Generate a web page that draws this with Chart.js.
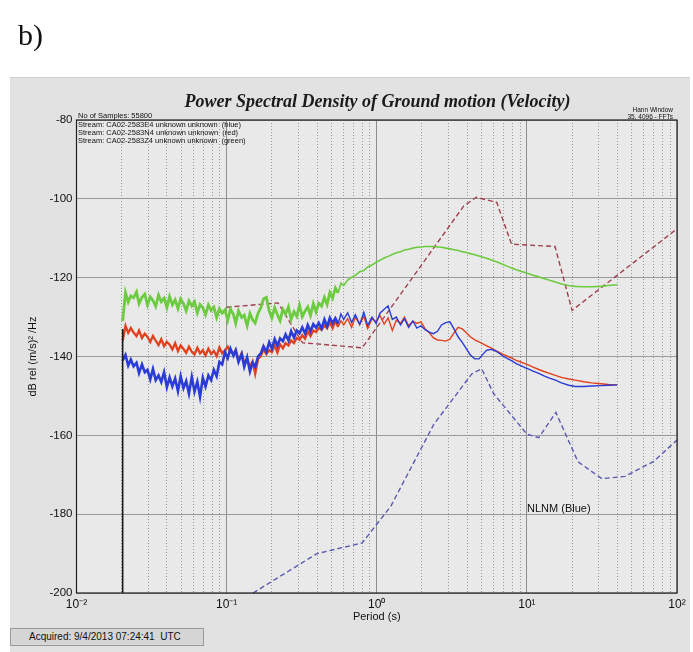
<!DOCTYPE html>
<html>
<head>
<meta charset="utf-8">
<script src="https://cdn.jsdelivr.net/npm/chart.js@4"></script>
<style>
  body { margin: 0; width: 693px; height: 652px; background: #fff; position: relative; overflow: hidden; font-family: "Liberation Sans", Arial, sans-serif; }
  #panel { position: absolute; left: 10px; top: 77px; width: 680px; height: 575px; background: #e2e2e2; border-top: 1px solid #cfcfcf; }
  #wrap { position: absolute; left: 0; top: 0; width: 693px; height: 652px; }
  .txt { position: absolute; white-space: nowrap; color: #111; }
  #tag { left: 18px; top: 18px; font: 30px "Liberation Serif", serif; }
  #title { left: 0; width: 755px; text-align: center; top: 91px; font: italic bold 18px "Liberation Serif", serif; color: #1a1a1a; }
  .info { left: 78px; font-size: 7.5px; line-height: 8px; }
  .fft { font-size: 6.5px; text-align: right; right: 20px; }
  #nlnm { left: 527px; top: 502px; font-size: 11px; }
  #acq { left: 10px; top: 628px; width: 194px; height: 18px; background: #d6d6d6; border: 1px solid #9a9a9a; box-sizing: border-box; font-size: 10px; line-height: 16px; padding-left: 18px; color: #111; }
</style>
</head>
<body>
<div id="panel"></div>
<div id="wrap"><canvas id="psd"></canvas></div>
<div class="txt" id="tag">b)</div>
<div class="txt" id="title">Power Spectral Density of Ground motion (Velocity)</div>
<div class="txt info" style="top:112px">No of Samples: 55800</div>
<div class="txt info" style="top:121px">Stream: CA02-2583E4 unknown unknown&nbsp; (blue)</div>
<div class="txt info" style="top:129px">Stream: CA02-2583N4 unknown unknown&nbsp; (red)</div>
<div class="txt info" style="top:137px">Stream: CA02-2583Z4 unknown unknown&nbsp; (green)</div>
<div class="txt fft" style="top:106px">Hann Window</div>
<div class="txt fft" style="top:113px">35, 4096 - FFTs</div>
<div class="txt" id="nlnm">NLNM (Blue)</div>
<div class="txt" id="acq">Acquired: 9/4/2013 07:24:41&nbsp; UTC</div>
<script>
// Periods (s) of the three measured spectra
const periods = [
  0.0203, 0.0212, 0.0221, 0.0230, 0.0240, 0.0251, 0.0261, 0.0273, 0.0285, 0.0297,
  0.0310, 0.0323, 0.0337, 0.0352, 0.0367, 0.0383, 0.0400, 0.0417, 0.0435, 0.0454,
  0.0474, 0.0494, 0.0516, 0.0538, 0.0561, 0.0586, 0.0611, 0.0638, 0.0665, 0.0694,
  0.0724, 0.0756, 0.0788, 0.0822, 0.0858, 0.0895, 0.0934, 0.0975, 0.1017, 0.106,
  0.111, 0.115, 0.120, 0.126, 0.131, 0.137, 0.143, 0.149, 0.155, 0.162,
  0.169, 0.176, 0.184, 0.192, 0.200, 0.209, 0.218, 0.227, 0.237, 0.247,
  0.258, 0.269, 0.281, 0.293, 0.306, 0.319, 0.333, 0.347, 0.362, 0.378,
  0.394, 0.411, 0.429, 0.448, 0.467, 0.487, 0.508, 0.530, 0.553, 0.577,
  0.602, 0.64, 0.68, 0.72, 0.77, 0.82, 0.87, 0.93, 0.99, 1.05,
  1.12, 1.19, 1.27, 1.35, 1.44, 1.53, 1.63, 1.74, 1.85, 1.97,
  2.10, 2.24, 2.38, 2.54, 2.70, 2.88, 3.07, 3.27, 3.48, 3.71,
  3.95, 4.2, 4.5, 4.8, 5.1, 5.4, 5.8, 6.2, 6.6, 7.0,
  7.5, 8.0, 8.5, 9.1, 9.7, 10.3, 11.0, 12.0, 13.0, 14.0,
  15.5, 17, 19, 21, 24, 27, 31, 35, 40
];

// E component (blue)
const blueDb = [
  -141.0, -139.6, -142.3, -140.8, -142.5, -141.6, -144.2, -142.0, -144.0, -143.4,
  -145.8, -143.2, -146.0, -144.8, -146.5, -144.0, -147.8, -145.3, -147.6, -145.6,
  -148.8, -145.0, -148.0, -146.2, -149.4, -145.2, -148.9, -146.4, -150.2, -145.4,
  -147.6, -144.8, -146.0, -143.4, -145.0, -141.4, -142.0, -139.0, -140.4, -138.0,
  -139.8, -138.4, -141.4, -139.4, -142.6, -140.2, -143.8, -141.6, -142.6, -140.0,
  -139.2, -137.4, -138.8, -136.4, -138.0, -135.6, -137.3, -135.4, -136.1, -134.4,
  -135.9, -133.6, -135.2, -133.4, -134.1, -132.6, -134.2, -132.0, -133.6, -131.8,
  -132.7, -131.5, -132.9, -130.6, -132.4, -130.2, -131.5, -130.3, -131.7, -129.2,
  -130.6, -128.9, -131.4, -129.4, -131.9, -128.8, -132.1, -130.0, -131.6, -129.0,
  -128.0, -127.2, -130.6, -130.0, -132.0, -130.4, -132.6, -131.0, -132.8, -132.2,
  -133.2, -133.8, -134.2, -133.6, -132.0, -131.4, -131.2, -133.0, -135.0, -136.4,
  -138.0, -139.6, -140.6, -140.6, -139.4, -138.4, -138.2, -138.6, -139.3, -140.0,
  -140.6, -141.2, -141.8, -142.3, -142.8, -143.2, -143.7, -144.3, -144.9, -145.4,
  -146.0, -146.7, -147.3, -147.6, -147.6, -147.5, -147.4, -147.3, -147.2
];

// N component (red)
const redDb = [
  -136.0, -132.2, -134.0, -132.8, -133.9, -134.8, -133.4, -135.3, -134.2, -135.0,
  -136.3, -134.8, -136.0, -137.1, -135.6, -137.4, -136.3, -137.0, -138.2, -136.6,
  -138.6, -137.2, -138.1, -139.1, -137.5, -138.8, -139.5, -137.8, -139.2, -138.4,
  -139.7, -138.0, -139.3, -138.6, -139.9, -137.7, -139.2, -138.4, -137.5, -138.9,
  -139.2, -138.4, -140.9, -139.2, -141.5, -140.8, -142.6, -141.2, -144.4, -140.6,
  -139.9, -138.2, -139.4, -138.4, -138.9, -137.2, -139.0, -136.9, -137.9, -136.6,
  -137.2, -135.9, -136.6, -135.3, -135.8, -134.6, -135.5, -133.6, -134.8, -133.4,
  -133.8, -132.8, -133.2, -132.2, -132.8, -131.4, -132.8, -131.0, -132.5, -130.9,
  -132.0, -130.4, -132.6, -130.0, -131.8, -129.8, -132.9, -130.4, -131.2, -129.6,
  -131.8, -130.2, -133.4, -130.8, -131.6, -130.0, -132.2, -131.0, -131.6, -131.2,
  -133.0, -134.0, -135.2, -135.8, -135.9, -136.1, -135.6, -134.0, -132.6, -133.0,
  -134.0, -135.0, -135.8, -136.3, -136.8, -137.3, -137.9, -138.5, -139.0, -139.5,
  -140.0, -140.5, -141.0, -141.4, -141.8, -142.2, -142.7, -143.3, -143.8, -144.2,
  -144.8, -145.3, -145.7, -146.0, -146.4, -146.7, -146.9, -147.1, -147.2
];

// Z component (green)
const greenDb = [
  -131.0, -123.8, -126.2, -124.6, -125.1, -123.6, -126.6, -125.0, -124.2, -126.9,
  -124.9, -125.8, -127.3, -124.4, -126.1, -125.2, -127.6, -124.8, -126.9, -125.6,
  -127.8, -125.4, -126.6, -128.4, -125.9, -127.2, -126.1, -128.9, -126.8, -127.6,
  -129.4, -126.9, -128.3, -127.5, -130.1, -127.9, -129.0, -128.2, -130.8, -128.0,
  -129.3, -131.6, -128.4, -130.1, -129.5, -132.2, -129.1, -130.7, -131.5, -129.0,
  -127.6, -125.4, -125.0, -128.4, -130.2, -127.6, -129.4, -130.9, -128.0, -129.2,
  -127.4, -130.6, -128.6, -129.8, -127.0, -129.9, -128.5, -127.4, -129.6, -126.6,
  -128.7, -126.5, -127.2, -125.0, -126.8, -123.8, -125.2, -122.6, -123.9, -121.4,
  -122.0, -120.6, -119.9, -119.4, -118.5, -118.2, -117.3, -116.8, -116.1, -115.6,
  -115.0, -114.6, -114.1, -113.7, -113.4, -113.0, -112.8, -112.5, -112.3, -112.2,
  -112.1, -112.1, -112.1, -112.2, -112.3, -112.5, -112.7, -112.9, -113.1, -113.4,
  -113.6, -113.9, -114.2, -114.5, -114.8, -115.1, -115.5, -115.9, -116.3, -116.7,
  -117.2, -117.6, -118.0, -118.4, -118.7, -119.0, -119.4, -119.8, -120.2, -120.6,
  -121.1, -121.6, -122.0, -122.2, -122.3, -122.3, -122.2, -122.0, -121.8
];

// High noise model (red dashed)
const nhnmPeriods = [0.1, 0.22, 0.32, 0.8, 3.8, 4.6, 6.3, 7.9, 15.4, 20, 100];
const nhnmDb = [-127.5, -126.4, -136.5, -137.8, -101.8, -99.6, -100.9, -111.5, -112.1, -128.3, -107.6];

// Low noise model (blue dashed)
const nlnmPeriods = [0.15, 0.4, 0.8, 1.24, 2.4, 4.3, 5.0, 6.0, 10, 12, 15.6, 21.9, 31.6, 45, 70, 100];
const nlnmDb = [-200, -190, -187.3, -178, -157.2, -144.4, -143.1, -149.4, -159.7, -160.6, -154.2, -166.7, -171, -170.4, -166.6, -161.2];

// overlapping rise of all three traces at the first bin
const riserPeriods = [0.0203, 0.0203];
const riserDb = [-200, -133];

const xTickValues = [0.01, 0.1, 1, 10, 100];
const xTickLabels = ['10⁻²', '10⁻¹', '10⁰', '10¹', '10²'];

const pts = (xs, ys) => xs.map((x, i) => ({ x: x, y: ys[i] }));

// plot area fill and black box
const plotFrame = {
  id: 'plotFrame',
  beforeDraw(chart) {
    const { ctx, chartArea: a } = chart;
    ctx.save();
    ctx.fillStyle = '#e9e9e9';
    ctx.fillRect(a.left, a.top, a.right - a.left, a.bottom - a.top);
    ctx.restore();
  },
  afterDraw(chart) {
    const { ctx, chartArea: a } = chart;
    ctx.save();
    ctx.strokeStyle = '#1e1e1e';
    ctx.lineWidth = 1.2;
    ctx.strokeRect(a.left, a.top, a.right - a.left, a.bottom - a.top);
    ctx.restore();
  }
};

// noisy short-period part is drawn thicker, like the dense FFT band
const line = (data, color, width, dash, noisyWidth) => ({
  data: data,
  borderColor: color,
  borderWidth: width,
  borderDash: dash || [],
  pointRadius: 0,
  fill: false,
  tension: 0,
  segment: noisyWidth ? { borderWidth: (c) => (c.p0.parsed.x < 0.55 ? noisyWidth : width) } : {}
});

new Chart(document.getElementById('psd'), {
  type: 'line',
  data: {
    datasets: [
      line(pts(riserPeriods, riserDb), '#1a1a1a', 1.6),
      line(pts(periods, blueDb), '#2b3bd6', 1.4, null, 2.6),
      line(pts(periods, redDb), '#e2401c', 1.4, null, 2.3),
      line(pts(periods, greenDb), '#6ccb3e', 1.6, null, 2.8),
      line(pts(nhnmPeriods, nhnmDb), '#a0404e', 1.4, [5, 3]),
      line(pts(nlnmPeriods, nlnmDb), '#5a5ab4', 1.4, [5, 3])
    ]
  },
  options: {
    responsive: true,
    maintainAspectRatio: false,
    animation: false,
    layout: { padding: { left: 10, top: 120, right: 16, bottom: 19 } },
    plugins: { legend: { display: false }, tooltip: { enabled: false } },
    scales: {
      x: {
        type: 'logarithmic',
        min: 0.01,
        max: 100,
        afterBuildTicks: (scale) => { scale.ticks = xTickValues.map(v => ({ value: v })); },
        afterFit: (scale) => { scale.height = 40; },
        grid: { color: '#8e8e8e', drawTicks: false },
        border: { display: false },
        ticks: {
          autoSkip: false,
          maxRotation: 0,
          padding: 4,
          color: '#111',
          font: { size: 12, family: 'Liberation Sans' },
          callback: (v) => xTickLabels[xTickValues.indexOf(v)]
        },
        title: { display: true, text: 'Period (s)', color: '#111', font: { size: 11, family: 'Liberation Sans' }, padding: { top: 0, bottom: 9 } }
      },
      xMinor: {
        type: 'logarithmic',
        position: 'top',
        min: 0.01,
        max: 100,
        afterBuildTicks: (scale) => {
          const t = [];
          for (let d = -2; d < 2; d++) for (let m = 2; m <= 9; m++) t.push({ value: m * Math.pow(10, d) });
          scale.ticks = t;
        },
        afterFit: (scale) => { scale.height = 0; },
        grid: { color: '#9a9a9a', drawTicks: false },
        border: { display: false, dash: [1, 2] },
        ticks: { display: false, autoSkip: false }
      },
      y: {
        min: -200,
        max: -80,
        afterFit: (scale) => { scale.width = 66.5; },
        grid: { color: '#9a9a9a', drawTicks: false },
        border: { display: false },
        ticks: { stepSize: 20, padding: 4, color: '#111', font: { size: 11.5, family: 'Liberation Sans' } },
        title: { display: true, text: 'dB rel (m/s)² /Hz', color: '#111', font: { size: 11, family: 'Liberation Sans' }, padding: { top: 16, bottom: 0 } }
      }
    }
  },
  plugins: [plotFrame]
});
</script>
</body>
</html>
